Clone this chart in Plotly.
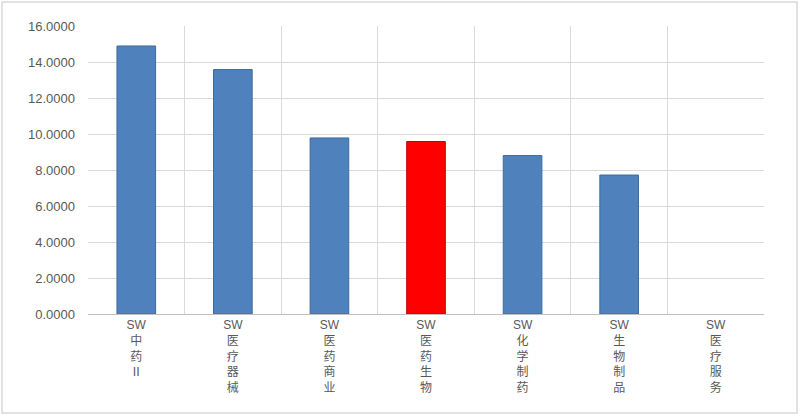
import plotly.graph_objects as go

categories = ["SW中药Ⅱ", "SW医疗器械", "SW医药商业", "SW医药生物", "SW化学制药", "SW生物制品", "SW医疗服务"]
values = [14.89, 13.58, 9.78, 9.58, 8.80, 7.72, None]
highlight = "SW医药生物"
y_ticks = [0, 2, 4, 6, 8, 10, 12, 14, 16]

BLUE = "#4F81BD"
RED = "#FF0000"

def stack(label):
    # "SW" on the first line, then each CJK character on its own line (vertical label)
    prefix, rest = label[:2], label[2:]
    return "<br>".join([prefix] + list(rest))

colors = [RED if c == highlight else BLUE for c in categories]
line_colors = ["#C00000" if c == highlight else "#3C6A9E" for c in categories]

fig = go.Figure()
fig.add_trace(go.Bar(
    x=categories,
    y=values,
    width=0.4,
    marker=dict(color=colors, line=dict(color=line_colors, width=1)),
    showlegend=False,
    hoverinfo="x+y",
))

fig.update_layout(
    width=800,
    height=416,
    margin=dict(l=88, r=36, t=26, b=102),
    paper_bgcolor="white",
    plot_bgcolor="white",
    font=dict(family="Liberation Sans, Noto Sans CJK SC, sans-serif", color="#595959"),
    xaxis=dict(
        type="category",
        tickson="boundaries",
        showgrid=True,
        gridcolor="#D9D9D9",
        gridwidth=1,
        showline=True,
        linecolor="#BFBFBF",
        linewidth=1,
        ticks="",
        tickangle=0,
        tickvals=categories,
        ticktext=[stack(c) for c in categories],
        tickfont=dict(family="Liberation Sans, Noto Sans CJK SC", size=12, color="#595959"),
        zeroline=False,
    ),
    yaxis=dict(
        range=[0, 16],
        tickvals=y_ticks,
        tickformat=".4f",
        showgrid=True,
        gridcolor="#D9D9D9",
        gridwidth=1,
        showline=False,
        zeroline=False,
        ticks="",
        ticklabelstandoff=12,
        tickfont=dict(family="Liberation Sans, Noto Sans, sans-serif", size=13, color="#595959"),
    ),
    shapes=[
        dict(
            type="rect", xref="paper", yref="paper",
            x0=-86 / 676, x1=(676 + 33) / 676,
            y0=-(102 - 3) / 288, y1=(288 + 24) / 288,
            line=dict(color="#D9D9D9", width=1.5),
            fillcolor="rgba(0,0,0,0)",
            layer="below",
        )
    ],
)

fig.write_html(
    "out.html",
    config={"displayModeBar": False},
    post_script="document.body.style.margin='0';document.body.style.overflow='hidden';",
)
